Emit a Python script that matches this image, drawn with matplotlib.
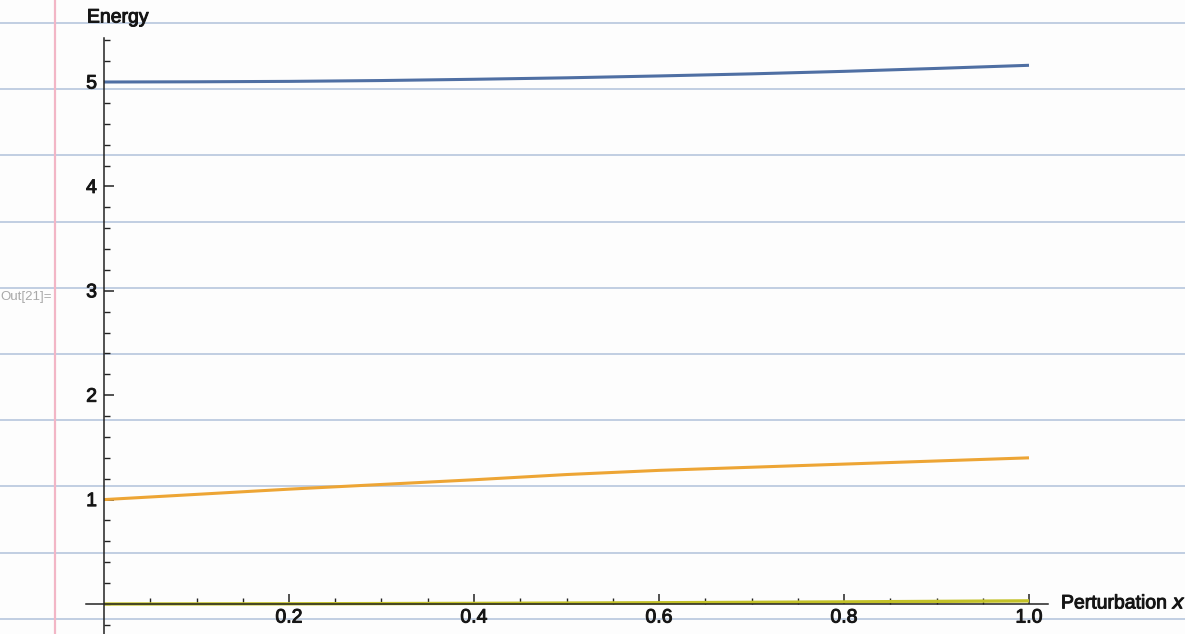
import numpy as np
import matplotlib
matplotlib.use("Agg")
import matplotlib.pyplot as plt
import matplotlib.patheffects as pe
from matplotlib.ticker import MultipleLocator, FixedLocator

# perturbation values and the three energy levels
x = [0.0, 0.1, 0.2, 0.3, 0.4, 0.5, 0.6, 0.7, 0.8, 0.9, 1.0]
e_high = [5.0, 5.002, 5.006, 5.014, 5.026, 5.04, 5.058, 5.078, 5.102, 5.13, 5.16]
e_mid = [1.0, 1.05, 1.10, 1.145, 1.19, 1.24, 1.28, 1.31, 1.34, 1.37, 1.40]
e_low = [0.0, 0.001, 0.002, 0.004, 0.006, 0.009, 0.012, 0.016, 0.02, 0.025, 0.03]

x_major = [0.2, 0.4, 0.6, 0.8, 1.0]
x_labels = ["0.2", "0.4", "0.6", "0.8", "1.0"]
y_major = [1, 2, 3, 4, 5]

plt.rcParams["font.family"] = ["Liberation Sans", "DejaVu Sans"]

W, H = 1185, 634
fig = plt.figure(figsize=(W / 100, H / 100), dpi=100)
fig.patch.set_facecolor("#fdfdfd")

ink = "#151515"
heavy = [pe.withStroke(linewidth=0.7, foreground=ink)]

# notebook paper in the background (pixel coords)
bg = fig.add_axes([0, 0, 1, 1])
bg.set_xlim(0, W)
bg.set_ylim(H, 0)
bg.axis("off")
for yy in np.arange(23, H, 66.2):
    bg.axhline(yy, color="#bccbe0", lw=1.3, zorder=0)
bg.axvline(55, color="#f2b6c6", lw=1.6, zorder=1)
bg.text(52, 297, "Out[21]=", ha="right", va="center", fontsize=9.5, color="#a8a8a8")

# main plot
px0, px1 = 104, 1029      # pixel x of x=0 and x=1
py0, py5 = 604, 82        # pixel y of y=0 and y=5
xlim = (-0.02, 1.02)
ylim = (-0.3, 5.42)
sx = (px1 - px0)
sy = (py0 - py5) / 5
left = px0 + xlim[0] * sx
right = px0 + xlim[1] * sx
bottom = py0 - ylim[0] * sy
top = py0 - ylim[1] * sy
ax = fig.add_axes([left / W, 1 - bottom / H, (right - left) / W, (bottom - top) / H])
ax.patch.set_alpha(0)
ax.set_xlim(*xlim)
ax.set_ylim(*ylim)

ax.plot(x, e_high, color="#4f6fa3", lw=2.2, solid_capstyle="butt")
ax.plot(x, e_mid, color="#eda535", lw=2.2, solid_capstyle="butt")
ax.plot(x, e_low, color="#c3c128", lw=2.4, solid_capstyle="butt")

for s in ["top", "right"]:
    ax.spines[s].set_visible(False)
ax.spines["left"].set_position(("data", 0))
ax.spines["bottom"].set_position(("data", 0))
for s in ["left", "bottom"]:
    ax.spines[s].set_color("#222222")
    ax.spines[s].set_linewidth(1.1)

ax.xaxis.set_major_locator(FixedLocator(x_major))
ax.set_xticklabels(x_labels)
ax.xaxis.set_minor_locator(FixedLocator([v for v in np.arange(0.05, 1.01, 0.05)]))
ax.yaxis.set_major_locator(FixedLocator(y_major))
ax.yaxis.set_minor_locator(MultipleLocator(0.2))

ax.tick_params(axis="both", which="major", direction="in", length=7, width=1.1,
               color="#222222", labelsize=14, labelcolor=ink)
ax.tick_params(axis="both", which="minor", direction="in", length=4, width=1.0, color="#222222")
ax.tick_params(axis="x", which="major", pad=4)
ax.tick_params(axis="y", which="major", pad=5)
for lab in ax.get_xticklabels() + ax.get_yticklabels():
    lab.set_path_effects(heavy)

fig.text(118 / W, 1 - 18 / H, "Energy", ha="center", va="center", fontsize=14,
         color=ink, path_effects=heavy)
fig.text(1061 / W, 1 - 604 / H, "Perturbation $\\it{x}$", ha="left", va="center",
         fontsize=14, color=ink, path_effects=heavy)

fig.savefig("out.png", dpi=100)
